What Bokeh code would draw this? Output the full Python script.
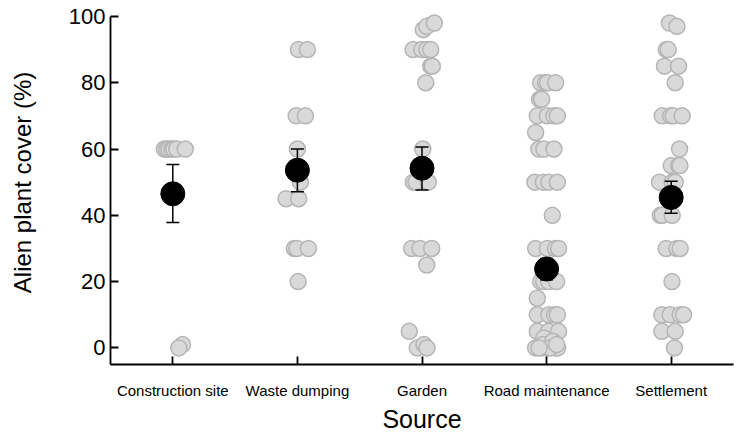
from bokeh.plotting import figure
from bokeh.models import Range1d, FixedTicker, ColumnDataSource
from bokeh.embed import file_html
from bokeh.resources import INLINE

categories = ["Construction site", "Waste dumping", "Garden", "Road maintenance", "Settlement"]

construction_values = [60, 60, 60, 60, 60, 60, 60, 1, 0]
construction_jitter = [-0.068, -0.048, -0.032, -0.008, 0.008, 0.032, 0.100, 0.078, 0.048]

waste_values = [90, 90, 70, 70, 60, 50, 45, 45, 30, 30, 30, 20]
waste_jitter = [0.008, 0.080, -0.010, 0.064, 0.0, 0.024, -0.091, 0.010, -0.024, -0.004, 0.088, 0.006]

garden_values = [96, 97, 98, 90, 90, 90, 90, 85, 85, 80, 60, 50, 50, 50,
                 30, 30, 30, 25, 5, 0, 1, 0]
garden_jitter = [0.010, 0.038, 0.099, -0.072, -0.002, 0.038, 0.070, 0.070, 0.083, 0.030,
                 0.006, -0.070, -0.048, 0.050, -0.083, -0.016, 0.078, 0.038, -0.102,
                 -0.038, 0.016, 0.040]

road_values = [80, 80, 80, 80, 75, 75, 70, 70, 70, 70, 65, 60, 60, 60,
               50, 50, 50, 50, 40, 30, 30, 30, 30, 20, 20, 20, 20, 15,
               10, 10, 10, 10, 5, 5, 5, 3, 0, 0, 0, 0, 0, 1, 2, 0, 0, 1]
road_jitter = [-0.048, -0.008, 0.008, 0.072, -0.056, -0.040, -0.075, 0.006, 0.059, 0.086,
               -0.088, -0.062, -0.022, 0.059, -0.094, -0.026, 0.018, 0.086, 0.046,
               -0.088, 0.006, 0.072, 0.096, -0.048, -0.024, 0.016, 0.080, -0.075,
               -0.075, 0.018, 0.064, 0.086, -0.075, 0.016, 0.096, -0.022,
               -0.088, -0.040, 0.008, 0.072, 0.088, -0.030, 0.050, 0.030, -0.060, 0.080]

settlement_values = [98, 97, 90, 90, 85, 85, 80, 70, 70, 70, 70, 60, 55, 55, 55,
                     50, 50, 50, 40, 40, 40, 30, 30, 30, 20, 10, 10, 10, 10, 5, 5, 0]
settlement_jitter = [-0.014, 0.046, -0.040, -0.024, -0.054, 0.059, 0.032, -0.072, -0.004,
                     0.016, 0.088, 0.067, 0.0, 0.059, 0.070, -0.094, 0.008, 0.032,
                     -0.088, -0.072, 0.008, -0.040, 0.046, 0.072, 0.006, -0.075, -0.008,
                     0.072, 0.099, -0.075, 0.032, 0.026]

mean_cover = [46.5, 53.6, 54.2, 23.8, 45.4]
se_low = [37.8, 47.1, 47.6, 20.6, 40.6]
se_high = [55.3, 60.0, 60.6, 27.0, 50.3]

y_ticks = [0, 20, 40, 60, 80, 100]

groups = [
    (construction_values, construction_jitter),
    (waste_values, waste_jitter),
    (garden_values, garden_jitter),
    (road_values, road_jitter),
    (settlement_values, settlement_jitter),
]

px, py = [], []
for i, (vals, jit) in enumerate(groups):
    for v, j in zip(vals, jit):
        px.append(i + 1 + j)
        py.append(v)

cat_x = [i + 1 for i in range(len(categories))]

FONT = "Liberation Sans"

p = figure(width=734, height=435,
           x_range=Range1d(0.5, 5.5), y_range=Range1d(-5, 104.8),
           output_backend="svg", toolbar_location=None,
           min_border_left=110, min_border_right=1,
           min_border_top=0, min_border_bottom=69)
p.outline_line_color = None
p.xgrid.grid_line_color = None
p.ygrid.grid_line_color = None
p.background_fill_color = "white"
p.border_fill_color = "white"

# points
p.scatter(px, py, size=16, fill_color="#d9d9d9", line_color="#b5b5b5", line_width=1.5)

# error bars
eb = ColumnDataSource(dict(x=cat_x, lo=se_low, hi=se_high, m=mean_cover))
p.segment(x0="x", y0="lo", x1="x", y1="hi", source=eb, line_color="black", line_width=1.5)
p.scatter(x="x", y="lo", source=eb, marker="dash", size=13, line_color="black", line_width=1.5)
p.scatter(x="x", y="hi", source=eb, marker="dash", size=13, line_color="black", line_width=1.5)
# means
p.scatter(x="x", y="m", source=eb, size=24, fill_color="black", line_color="black")

for ax in (p.xaxis[0], p.yaxis[0]):
    ax.axis_line_color = "black"
    ax.axis_line_width = 1.8
    ax.major_tick_line_color = "black"
    ax.major_tick_line_width = 1.8
    ax.major_tick_in = 8
    ax.major_tick_out = 0
    ax.minor_tick_line_color = None
    ax.major_label_text_font = FONT
    ax.major_label_text_color = "black"
    ax.axis_label_text_font = FONT
    ax.axis_label_text_font_style = "normal"
    ax.axis_label_text_color = "black"

p.xaxis.ticker = FixedTicker(ticks=cat_x)
p.xaxis.major_label_overrides = {i + 1: c for i, c in enumerate(categories)}
p.xaxis.major_label_text_font_size = "15px"
p.xaxis.major_label_standoff = 17
p.xaxis.axis_label = "Source"
p.xaxis.axis_label_text_font_size = "25px"
p.xaxis.axis_label_text_line_height = 1.0
p.xaxis.axis_label_standoff = 3

p.yaxis.ticker = FixedTicker(ticks=y_ticks)
p.yaxis.bounds = (-5, 100)
p.yaxis.major_label_text_font_size = "22px"
p.yaxis.major_label_standoff = 5
p.yaxis.axis_label = "Alien plant cover (%)"
p.yaxis.axis_label_text_font_size = "24px"
p.yaxis.axis_label_standoff = 30

open("out.html", "w").write(file_html(p, INLINE))
